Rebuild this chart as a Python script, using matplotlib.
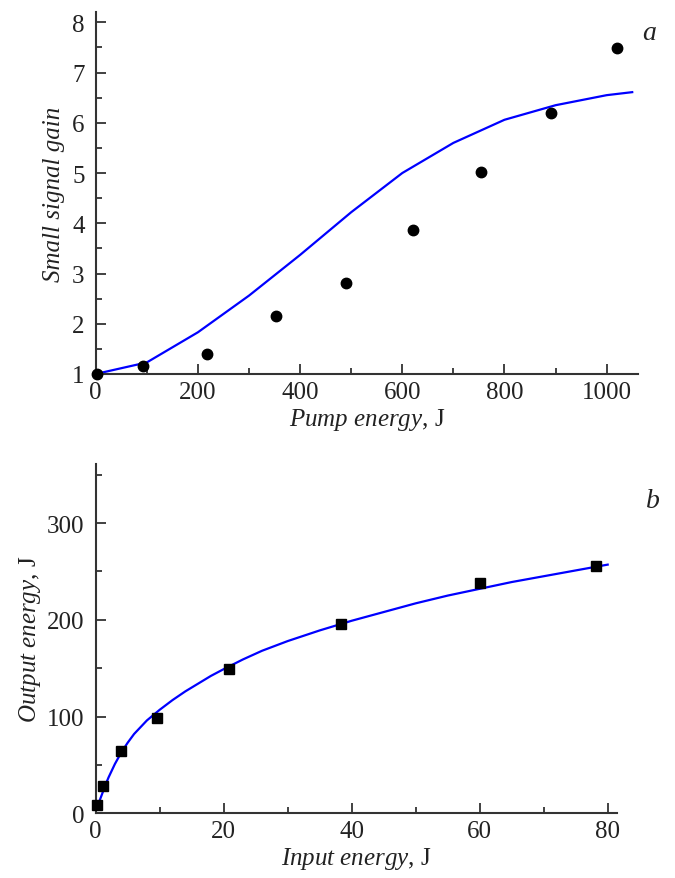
import matplotlib.pyplot as plt
from matplotlib.ticker import MultipleLocator

plt.rcParams['font.family'] = 'Liberation Serif'
plt.rcParams['mathtext.fontset'] = 'custom'
plt.rcParams['mathtext.rm'] = 'Liberation Serif'
plt.rcParams['mathtext.it'] = 'Liberation Serif:italic'

# Panel a: small signal gain vs pump energy
pump_meas = [3, 92, 217, 353, 489, 620, 755, 891, 1021]
gain_meas = [1.0, 1.16, 1.40, 2.16, 2.81, 3.86, 5.03, 6.20, 7.48]
pump_calc = [0, 100, 200, 300, 400, 500, 600, 700, 800, 900, 1000, 1050]
gain_calc = [1.0, 1.23, 1.83, 2.56, 3.37, 4.22, 5.00, 5.60, 6.06, 6.35, 6.55, 6.61]

# Panel b: output energy vs input energy
in_meas = [0.15, 1.2, 3.95, 9.6, 20.9, 38.4, 60.0, 78.1]
out_meas = [8.6, 28, 64, 98.5, 149, 196, 238.5, 255.5]
in_calc = [0.3, 0.6, 1, 1.5, 2, 2.5, 3, 4, 5, 6, 7, 8, 10, 12, 14, 16, 18, 20,
           23, 26, 30, 35, 40, 45, 50, 55, 60, 65, 70, 75, 80]
out_calc = [7, 13, 20, 29, 37, 44, 51, 63, 73, 82, 89, 96, 107, 117, 126, 134,
            142, 149, 159, 168, 178, 189, 199, 208, 217, 225, 232, 239, 245,
            251, 257]

fig = plt.figure(figsize=(6.75, 8.79), dpi=100)
ax1 = fig.add_axes([0.1418, 0.5734, 0.8039, 0.4115])
ax2 = fig.add_axes([0.1418, 0.0736, 0.7727, 0.3974])

axc = '#333333'
for ax in (ax1, ax2):
    for s in ('top', 'right'):
        ax.spines[s].set_visible(False)
    for s in ('left', 'bottom'):
        ax.spines[s].set_color(axc)
        ax.spines[s].set_linewidth(1.5)
    ax.tick_params(which='both', direction='in', colors=axc, width=1.3,
                   labelsize=18, labelcolor='#222222')
    ax.tick_params(which='major', length=7)
    ax.tick_params(which='minor', length=4)
    ax.tick_params(axis='y', pad=8)
    ax.tick_params(axis='x', pad=5)

ax1.plot(pump_calc, gain_calc, color='#0000ff', lw=1.6, zorder=2)
ax1.plot(pump_meas, gain_meas, 'o', color='black', ms=7.5, zorder=3, clip_on=False)
ax1.set_xlim(0, 1062)
ax1.set_ylim(1, 8.2)
ax1.xaxis.set_major_locator(MultipleLocator(200))
ax1.xaxis.set_minor_locator(MultipleLocator(100))
ax1.yaxis.set_major_locator(MultipleLocator(1))
ax1.yaxis.set_minor_locator(MultipleLocator(0.5))
ax1.set_xlabel(r'$\it{Pump\ energy,}\,\mathrm{J}$', fontsize=18, color='#222222',
               labelpad=2)
ax1.set_ylabel('Small signal gain', fontsize=18, style='italic', color='#222222',
               labelpad=5)
fig.text(0.962, 0.962, 'a', fontsize=20, style='italic', color='#222222',
         ha='center', va='center')

ax2.plot(in_calc, out_calc, color='#0000ff', lw=1.6, zorder=2)
ax2.plot(in_meas, out_meas, 's', color='black', ms=7, zorder=3, clip_on=False)
ax2.set_xlim(0, 81.5)
ax2.set_ylim(0, 361)
ax2.xaxis.set_major_locator(MultipleLocator(20))
ax2.xaxis.set_minor_locator(MultipleLocator(10))
ax2.yaxis.set_major_locator(MultipleLocator(100))
ax2.yaxis.set_minor_locator(MultipleLocator(50))
ax2.set_xlabel(r'$\it{Input\ energy,}\,\mathrm{J}$', fontsize=18, color='#222222',
               labelpad=2)
ax2.set_ylabel(r'$\it{Output\ energy,}\,\mathrm{J}$', fontsize=18, color='#222222',
               labelpad=3)
fig.text(0.967, 0.429, 'b', fontsize=20, style='italic', color='#222222',
         ha='center', va='center')

fig.savefig('out.png', dpi=100)
